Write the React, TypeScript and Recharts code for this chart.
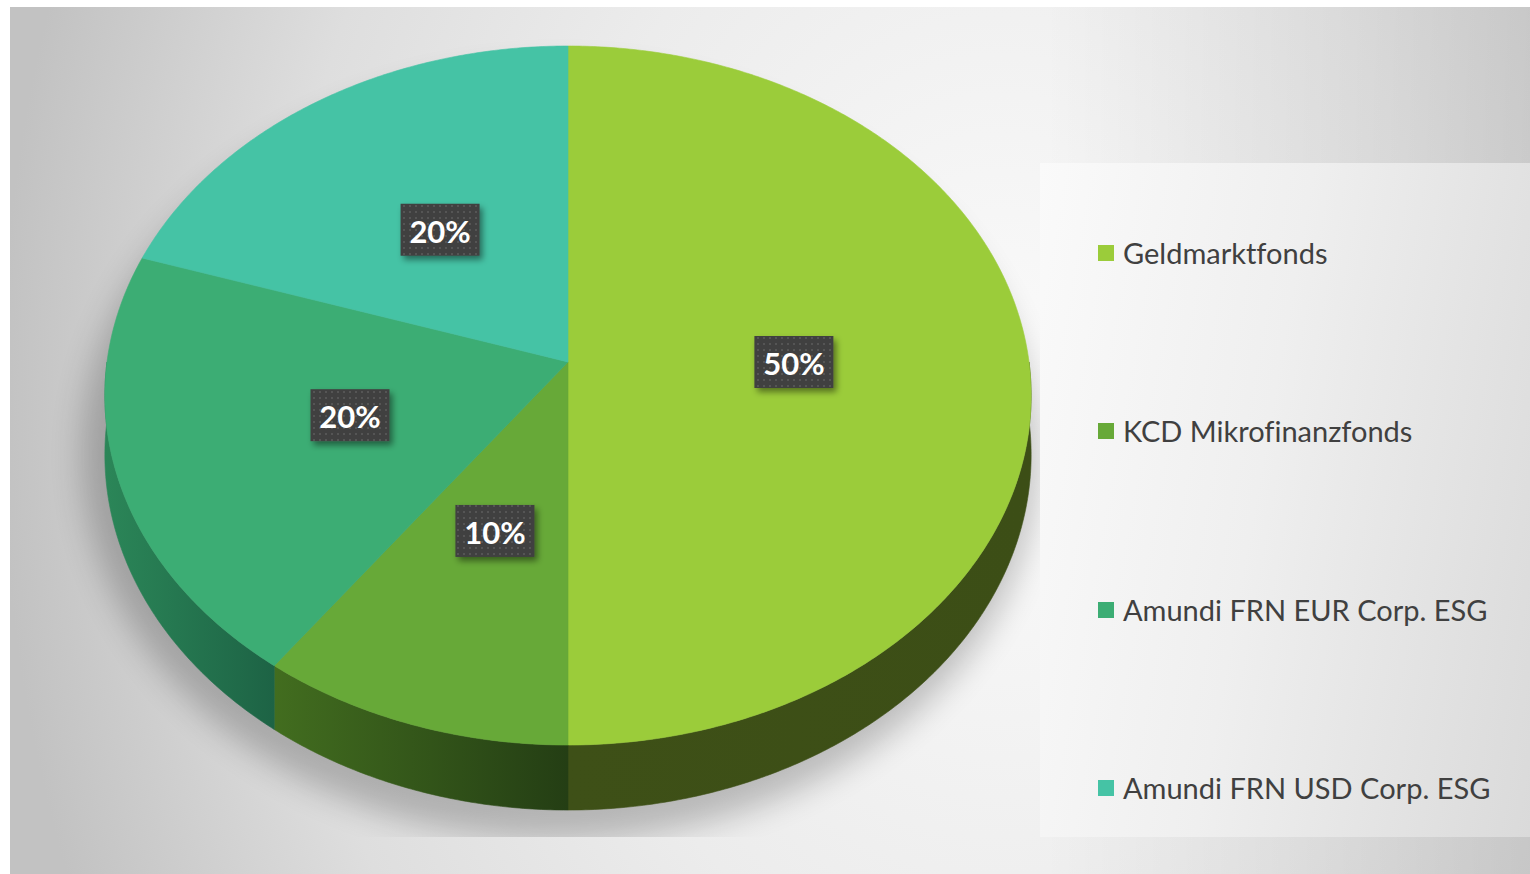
import React from 'react';
import { PieChart, Pie, Cell, Legend } from 'recharts';

const categories = [
  'Geldmarktfonds',
  'KCD Mikrofinanzfonds',
  'Amundi FRN EUR Corp. ESG',
  'Amundi FRN USD Corp. ESG',
];
const shares = [50, 10, 20, 20];

const data = categories.map((name, i) => ({ name, value: shares[i] }));

const TOP_COLORS = ['#9BCC3A', '#67A938', '#3CAD74', '#45C3A5'];
const SIDE_COLORS = [
  ['#3E5017', '#3C4E16'],
  ['#426D1F', '#243E14'],
  ['#2B8658', '#1D6345'],
  ['#2E8C77', '#1F6A5A'],
];

const TILT = 0.7512; // vertical squash of the disc
const PERSP = 0.0959; // perspective strength
const DEPTH = 0.1275; // slab thickness relative to radius

function project(cx: number, cy: number, r: number, deg: number, f = 1, drop = 0): [number, number] {
  const t = (deg * Math.PI) / 180;
  const u = Math.cos(t) * f;
  const v = Math.sin(t) * f;
  const w = 1 + PERSP * v;
  return [cx + (r * u) / w, cy - (r * TILT * v) / w + (drop * r * DEPTH) / w];
}

function Slice3D(props: any) {
  const { cx, cy, outerRadius, startAngle, endAngle, fill, index } = props;
  const steps = Math.max(12, Math.ceil(Math.abs(endAngle - startAngle) * 2));
  const angles: number[] = [];
  for (let i = 0; i <= steps; i++) angles.push(startAngle + ((endAngle - startAngle) * i) / steps);

  const topPts = angles.map((a) => project(cx, cy, outerRadius, a));
  const topPath =
    `M${cx},${cy} ` + topPts.map(([x, y]) => `L${x.toFixed(2)},${y.toFixed(2)}`).join(' ') + ' Z';

  // visible side runs (front half of the slab)
  const runs: number[][] = [];
  let cur: number[] = [];
  angles.forEach((a) => {
    if (Math.sin((a * Math.PI) / 180) <= 0.0001) cur.push(a);
    else if (cur.length) {
      runs.push(cur);
      cur = [];
    }
  });
  if (cur.length) runs.push(cur);

  const idx = typeof index === 'number' ? index : 0;
  const gid = `side-grad-${idx}`;
  const sc = SIDE_COLORS[idx % SIDE_COLORS.length];

  return (
    <g>
      <defs>
        <linearGradient id={gid} x1="0" y1="0" x2="1" y2="0">
          <stop offset="0%" stopColor={sc[0]} />
          <stop offset="100%" stopColor={sc[1]} />
        </linearGradient>
      </defs>
      {runs
        .filter((r) => r.length > 1)
        .map((r, k) => {
          const up = r.map((a) => project(cx, cy, outerRadius, a));
          const down = r.map((a) => project(cx, cy, outerRadius, a, 1, 1)).reverse();
          const d =
            'M' +
            up.map(([x, y]) => `${x.toFixed(2)},${y.toFixed(2)}`).join(' L') +
            ' L' +
            down.map(([x, y]) => `${x.toFixed(2)},${y.toFixed(2)}`).join(' L') +
            ' Z';
          return <path key={k} d={d} fill={`url(#${gid})`} stroke={`url(#${gid})`} strokeWidth={0.6} />;
        })}
      <path d={topPath} fill={fill} stroke={fill} strokeWidth={0.6} />
    </g>
  );
}

function renderLabel(props: any) {
  const { cx, cy, outerRadius, midAngle, percent } = props;
  const [x, y] = project(cx, cy, outerRadius, midAngle, 0.49);
  const text = `${Math.round(percent * 100)}%`;
  const w = 79;
  const h = 52;
  return (
    <g>
      <rect x={x - w / 2} y={y - h / 2} width={w} height={h} fill="#404040" filter="url(#lbl-shadow)" />
      <rect x={x - w / 2} y={y - h / 2} width={w} height={h} fill="url(#lbl-dots)" />
      <text
        x={x}
        y={y + 1}
        textAnchor="middle"
        dominantBaseline="central"
        fill="#FFFFFF"
        fontFamily="Lato, 'Open Sans', sans-serif"
        fontWeight={700}
        fontSize={31}
      >
        {text}
      </text>
    </g>
  );
}

function LegendContent(props: any) {
  const payload = [...(props.payload || [])].sort(
    (a: any, b: any) => categories.indexOf(a.value) - categories.indexOf(b.value)
  );
  return (
    <div style={{ position: 'relative', width: 440, height: 600 }}>
      {payload.map((entry: any, i: number) => (
        <div
          key={i}
          style={{
            position: 'absolute',
            left: 0,
            top: i * 178.3,
            height: 34,
            display: 'flex',
            alignItems: 'center',
            whiteSpace: 'nowrap',
          }}
        >
          <span
            style={{
              display: 'inline-block',
              width: 16,
              height: 16,
              background: entry.color || TOP_COLORS[i],
              marginRight: 9,
            }}
          />
          <span
            style={{
              fontFamily: "Lato, 'Open Sans', sans-serif",
              fontSize: 29,
              color: '#404040',
              lineHeight: '34px',
              fontVariantLigatures: 'none',
            }}
          >
            {entry.value}
          </span>
        </div>
      ))}
    </div>
  );
}

export default function App() {
  return (
    <div style={{ position: 'absolute', left: 0, top: 0, width: 1530, height: 874, overflow: 'hidden', background: '#ffffff' }}>
      {/* chart area background */}
      <div
        style={{
          position: 'absolute',
          left: 10,
          top: 7,
          width: 1520,
          height: 867,
          background:
            'linear-gradient(90deg, rgba(0,0,0,0) 68%, rgba(0,0,0,0.12) 100%), radial-gradient(ellipse 1000px 1300px at 990px 400px, #fbfbfb 0%, #ececec 45%, #dedede 72%, #c2c2c2 100%)',
        }}
      />
      {/* legend panel */}
      <div
        style={{
          position: 'absolute',
          left: 1040,
          top: 163,
          width: 490,
          height: 674,
          background: 'linear-gradient(100deg, #fafafa 0%, #efefef 45%, #dadada 100%)',
        }}
      />
      {/* shared defs + pie shadow */}
      <svg style={{ position: 'absolute', left: 0, top: 0 }} width={1530} height={874}>
        <defs>
          <pattern id="lbl-dots" width="6" height="6" patternUnits="userSpaceOnUse">
            <rect x="1" y="1" width="2" height="2" fill="#555555" />
          </pattern>
          <filter id="lbl-shadow" x="-30%" y="-30%" width="160%" height="160%">
            <feDropShadow dx="3" dy="4" stdDeviation="3" floodColor="#000000" floodOpacity="0.45" />
          </filter>
          <filter id="pie-shadow-blur" x="-20%" y="-20%" width="140%" height="140%">
            <feGaussianBlur stdDeviation="16" />
          </filter>
          <clipPath id="plot-clip">
            <rect x="10" y="7" width="1030" height="830" />
          </clipPath>
        </defs>
        <g clipPath="url(#plot-clip)">
          <ellipse cx={560} cy={455} rx={478} ry={385} fill="#000000" opacity={0.22} filter="url(#pie-shadow-blur)" />
        </g>
      </svg>
      <div style={{ position: 'absolute', left: 0, top: 0 }}>
        <PieChart width={1530} height={874} margin={{ top: 0, right: 0, bottom: 0, left: 0 }}>
          <Pie
            data={data}
            dataKey="value"
            nameKey="name"
            cx={568}
            cy={362}
            innerRadius={0}
            outerRadius={461}
            startAngle={90}
            endAngle={-270}
            stroke="none"
            isAnimationActive={false}
            shape={Slice3D}
            label={renderLabel}
            labelLine={false}
          >
            {data.map((d, i) => (
              <Cell key={d.name} fill={TOP_COLORS[i]} />
            ))}
          </Pie>
          <Legend
            layout="vertical"
            align="right"
            verticalAlign="top"
            content={LegendContent}
            wrapperStyle={{ position: 'absolute', left: 1098, top: 236, width: 440, height: 600 }}
          />
        </PieChart>
      </div>
    </div>
  );
}
